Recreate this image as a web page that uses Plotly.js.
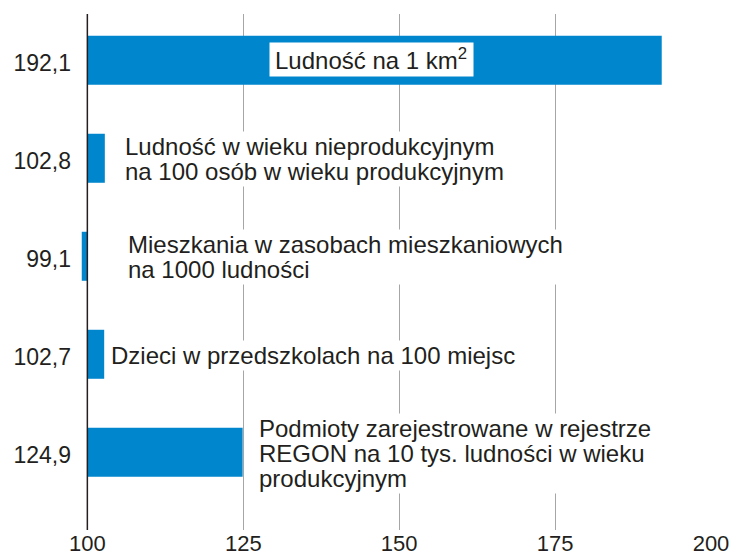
<!DOCTYPE html>
<html>
<head>
<meta charset="utf-8">
<script src="https://cdn.plot.ly/plotly-3.0.1.min.js"></script>
<style>html,body{margin:0;padding:0;background:#fff;}#chart{width:733px;height:551px;}</style>
</head>
<body>
<div id="chart"></div>
<script>
var categories = ["Ludność na 1 km<sup>2</sup>",
  "Ludność w wieku nieprodukcyjnym<br>na 100 osób w wieku produkcyjnym",
  "Mieszkania w zasobach mieszkaniowych<br>na 1000 ludności",
  "Dzieci w przedszkolach na 100 miejsc",
  "Podmioty zarejestrowane w rejestrze<br>REGON na 10 tys. ludności w wieku<br>produkcyjnym"];
var values = [192.1, 102.8, 99.1, 102.7, 124.9];
var baseValue = 100;
var valueLabels = values.map(function(v){ return v.toFixed(1).replace('.', ','); });
var xTicks = [100, 125, 150, 175, 200];

var font = "'Liberation Sans', Arimo, Arial, sans-serif";
var textColor = "#231f20";

var trace = {
  type: 'bar',
  orientation: 'h',
  y: valueLabels,
  x: values.map(function(v){ return v - baseValue; }),
  base: values.map(function(){ return baseValue; }),
  width: 0.5,
  marker: {color: '#0086cd', line: {width: 0}},
  hoverinfo: 'skip'
};

// measure text width for the white backing boxes
var ctx = document.createElement('canvas').getContext('2d');
ctx.font = "24px 'Liberation Sans', Arimo, Arial, sans-serif";
function textWidth(s) {
  return ctx.measureText(s.replace(/<sup>(.*?)<\/sup>/g, '$1')).width;
}

var annX = [145.5, 105.9, 106.4, 103.7, 127.4];
var lineGap = 25;
var annotations = [];
categories.forEach(function(c, i){
  var lines = c.split('<br>');
  var n = lines.length;
  var w = Math.max.apply(null, lines.map(textWidth));
  annotations.push({x: annX[i], y: valueLabels[i], xref: 'x', yref: 'y', text: ' ', showarrow: false,
    xanchor: i === 0 ? 'center' : 'left', yanchor: 'middle',
    width: Math.ceil(w) + (i === 0 ? 6 : 2), height: n * lineGap + (i === 0 ? 8 : 4),
    yshift: i === 0 ? 1 : -1, borderpad: 0,
    font: {family: font, size: 24, color: textColor}, bgcolor: '#ffffff'});
  lines.forEach(function(line, k){
    var a = {x: annX[i], y: valueLabels[i], xref: 'x', yref: 'y', text: line, showarrow: false,
      yanchor: 'middle', yshift: ((n - 1) / 2 - k) * lineGap - 1,
      font: {family: font, size: 24, color: textColor}};
    if (i === 0) { a.xanchor = 'center'; a.align = 'center'; a.borderpad = 1; a.yshift = 1; }
    else { a.xanchor = 'left'; a.align = 'left'; a.borderpad = 0; }
    annotations.push(a);
  });
});

var layout = {
  width: 733, height: 551,
  margin: {l: 78, r: 22, t: 14, b: 21},
  paper_bgcolor: '#fff', plot_bgcolor: '#fff',
  showlegend: false,
  font: {family: font},
  xaxis: {range: [98.5, 200], tickvals: xTicks, ticktext: xTicks.map(String),
    showgrid: true, gridcolor: '#a6a6a6', gridwidth: 1, zeroline: false,
    showline: false, ticks: '', tickfont: {family: font, size: 22, color: textColor},
    ticklabelstandoff: -2},
  yaxis: {type: 'category', range: [4.793, -0.472], showgrid: false, zeroline: false,
    showline: false, ticks: '', tickfont: {family: font, size: 23, color: textColor},
    ticklabelstandoff: 6, ticklabelshift: -3},
  shapes: [{type: 'line', xref: 'x', yref: 'paper', x0: 100, x1: 100, y0: 0, y1: 1,
    line: {color: '#231f20', width: 1.5}, layer: 'above'}],
  annotations: annotations
};

Plotly.newPlot('chart', [trace], layout, {staticPlot: true, displayModeBar: false});
</script>
</body>
</html>
